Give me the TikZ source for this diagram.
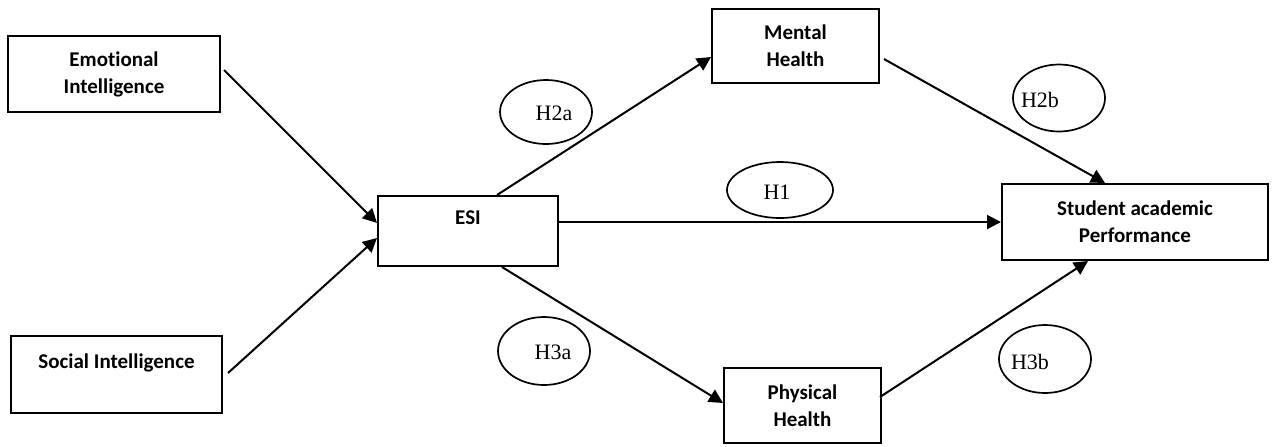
\documentclass[tikz,border=0pt]{standalone}
\usepackage{fontspec}
\setmainfont{Liberation Serif}
\newfontfamily\boxfont[Ligatures=NoCommon]{Carlito}
\usetikzlibrary{arrows.meta,shapes.geometric}
\begin{document}
\begin{tikzpicture}[x=0.5pt,y=-0.5pt,
  varbox/.style={draw,line width=1pt,inner sep=0pt,align=center,
    font=\boxfont\bfseries\fontsize{10.5}{13.5}\selectfont},
  hyp/.style={draw,ellipse,line width=0.85pt,inner sep=0pt},
  hyptext/.style={font=\fontsize{11}{13}\selectfont,inner sep=0pt},
  link/.style={line width=1pt,-{Triangle[length=7pt,width=7pt]}}]
\useasboundingbox (0,0) rectangle (1275,446);

% variable boxes
\node[varbox,minimum width=106pt,minimum height=38pt] (ei) at (114,74) {Emotional\\Intelligence};
\node[varbox,minimum width=105.5pt,minimum height=38.5pt] (si) at (116.5,374.5) {Social Intelligence\\\mbox{}};
\node[varbox,minimum width=90pt,minimum height=35pt] (esi) at (468,231) {ESI\\\mbox{}};
\node[varbox,minimum width=83.5pt,minimum height=37pt] (mh) at (795.5,46) {Mental\\Health};
\node[varbox,minimum width=78.5pt,minimum height=37.5pt] (ph) at (802.5,405.5) {Physical\\Health};
\node[varbox,minimum width=133pt,minimum height=38pt] (sap) at (1135,222) {Student academic\\Performance};

% hypothesis ellipses
\node[hyp,minimum width=46pt,minimum height=32pt] (h2a) at (546,112) {};
\node[hyptext] (h2at) at (554,113) {H2a};
\node[hyp,minimum width=46pt,minimum height=33.5pt] (h2b) at (1059,98) {};
\node[hyptext] (h2bt) at (1040,100) {H2b};
\node[hyp,minimum width=53pt,minimum height=28pt] (h1) at (780,190) {};
\node[hyptext] (h1t) at (777,192) {H1};
\node[hyp,minimum width=46pt,minimum height=34pt] (h3a) at (544,351) {};
\node[hyptext] (h3at) at (553,352) {H3a};
\node[hyp,minimum width=46pt,minimum height=34pt] (h3b) at (1045,359) {};
\node[hyptext] (h3bt) at (1030,362) {H3b};

% paths
\draw[link] ([xshift=1.5pt,yshift=2pt]ei.east) -- ([yshift=4pt]esi.west);
\draw[link] ([xshift=2.5pt,yshift=0.75pt]si.east) -- ([yshift=-3.5pt]esi.west);
\draw[link] ([xshift=14.5pt]esi.north) -- ([yshift=-5.5pt]mh.west);
\draw[link] ([xshift=17pt]esi.south) -- ([yshift=1.25pt]ph.west);
\draw[link] ([yshift=4.5pt]esi.east) -- (sap.west);
\draw[link] ([xshift=2pt,yshift=-6.5pt]mh.east) -- ([xshift=-15pt]sap.north);
\draw[link] ([xshift=-1pt,yshift=4.25pt]ph.east) -- ([xshift=-23.5pt]sap.south);
\end{tikzpicture}
\end{document}
